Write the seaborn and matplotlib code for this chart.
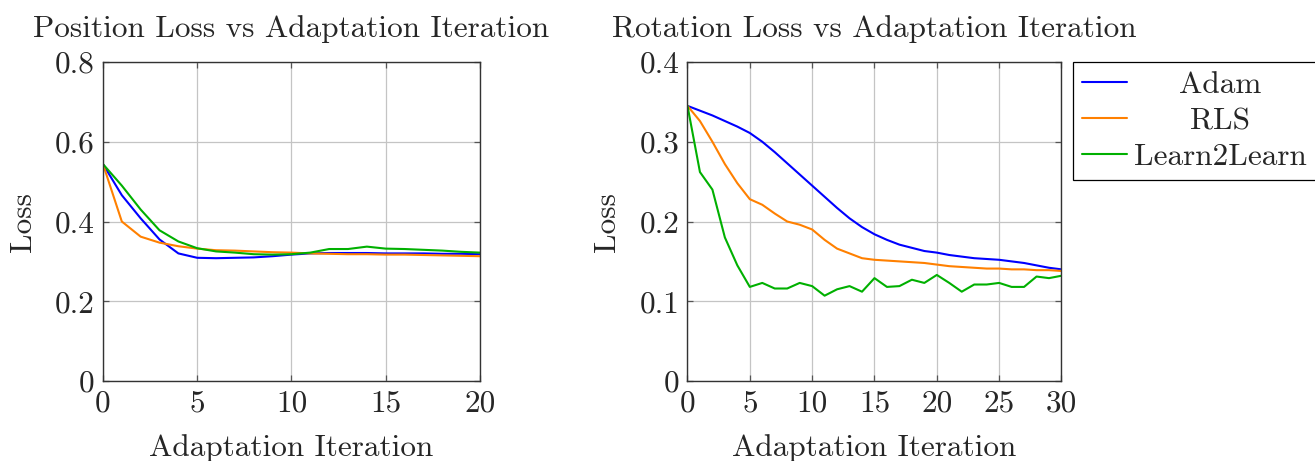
import numpy as np
import pandas as pd
import matplotlib
matplotlib.use("Agg")
import matplotlib.pyplot as plt
import seaborn as sns

# ---- data -------------------------------------------------------------
methods = ["Adam", "RLS", "Learn2Learn"]
colors = {"Adam": "#0000ff", "RLS": "#ff8000", "Learn2Learn": "#00b000"}

pos_iters = list(range(0, 21))
pos_adam = [0.544, 0.466, 0.408, 0.355, 0.320, 0.309, 0.308, 0.309, 0.310, 0.313,
            0.317, 0.320, 0.321, 0.321, 0.321, 0.320, 0.320, 0.320, 0.319, 0.319, 0.318]
pos_rls = [0.544, 0.400, 0.362, 0.347, 0.338, 0.332, 0.328, 0.327, 0.325, 0.323,
           0.322, 0.320, 0.319, 0.318, 0.318, 0.317, 0.317, 0.316, 0.315, 0.314, 0.313]
pos_l2l = [0.544, 0.490, 0.430, 0.378, 0.350, 0.333, 0.325, 0.322, 0.318, 0.317,
           0.318, 0.322, 0.331, 0.331, 0.337, 0.332, 0.331, 0.329, 0.327, 0.324, 0.322]

rot_iters = list(range(0, 31))
rot_adam = [0.345, 0.339, 0.333, 0.326, 0.319, 0.311, 0.300, 0.287, 0.273, 0.259,
            0.245, 0.231, 0.217, 0.204, 0.193, 0.184, 0.177, 0.171, 0.167, 0.163,
            0.161, 0.158, 0.156, 0.154, 0.153, 0.152, 0.150, 0.148, 0.145, 0.142, 0.140]
rot_rls = [0.345, 0.326, 0.300, 0.272, 0.248, 0.228, 0.221, 0.210, 0.200, 0.196,
           0.190, 0.177, 0.166, 0.160, 0.154, 0.152, 0.151, 0.150, 0.149, 0.148,
           0.146, 0.144, 0.143, 0.142, 0.141, 0.141, 0.140, 0.140, 0.139, 0.139, 0.138]
rot_l2l = [0.345, 0.262, 0.240, 0.180, 0.145, 0.118, 0.123, 0.116, 0.116, 0.123,
           0.119, 0.107, 0.115, 0.119, 0.112, 0.129, 0.118, 0.119, 0.127, 0.123,
           0.133, 0.123, 0.112, 0.121, 0.121, 0.123, 0.118, 0.118, 0.131, 0.129, 0.132]

pos_xticks = [0, 5, 10, 15, 20]
pos_yticks = [0, 0.2, 0.4, 0.6, 0.8]
pos_yticklabels = ["0", "0.2", "0.4", "0.6", "0.8"]
rot_xticks = [0, 5, 10, 15, 20, 25, 30]
rot_yticks = [0, 0.1, 0.2, 0.3, 0.4]
rot_yticklabels = ["0", "0.1", "0.2", "0.3", "0.4"]


def long_frame(iters, series):
    rows = []
    for name, vals in zip(methods, series):
        for it, v in zip(iters, vals):
            rows.append({"Iteration": it, "Loss": v, "Method": name})
    return pd.DataFrame(rows)


pos_df = long_frame(pos_iters, [pos_adam, pos_rls, pos_l2l])
rot_df = long_frame(rot_iters, [rot_adam, rot_rls, rot_l2l])

# ---- style ------------------------------------------------------------
sns.set_style("whitegrid")
plt.rcParams["font.family"] = ["cmr10", "DejaVu Serif"]
plt.rcParams["mathtext.fontset"] = "cm"
plt.rcParams["axes.formatter.use_mathtext"] = True

FS = 22.5

fig = plt.figure(figsize=(13.15, 4.61), dpi=100)
ax1 = fig.add_axes([0.0783, 0.1735, 0.2867, 0.692])
ax2 = fig.add_axes([0.5228, 0.1735, 0.2844, 0.692])


def style_axes(ax, xticks, yticks, yticklabels, xmax, ymax, title):
    ax.set_xlim(0, xmax)
    ax.set_ylim(0, ymax)
    ax.set_xticks(xticks)
    ax.set_xticklabels([str(t) for t in xticks])
    ax.set_yticks(yticks)
    ax.set_yticklabels(yticklabels)
    ax.grid(True, color="#c4c4c4", linewidth=0.9)
    ax.set_axisbelow(True)
    for s in ax.spines.values():
        s.set_color("#333333")
        s.set_linewidth(1.0)
        s.set_visible(True)
    ax.tick_params(direction="in", length=4, width=0.9, color="#555555",
                   labelsize=FS, top=True, right=True, bottom=True, left=True,
                   pad=6)
    ax.set_xlabel("Adaptation Iteration", fontsize=FS, labelpad=12)
    ax.set_ylabel("Loss", fontsize=FS, labelpad=13)
    ax.set_title(title, fontsize=FS, pad=18)


sns.lineplot(data=pos_df, x="Iteration", y="Loss", hue="Method", palette=colors,
             ax=ax1, linewidth=1.5, legend=False)
sns.lineplot(data=rot_df, x="Iteration", y="Loss", hue="Method", palette=colors,
             ax=ax2, linewidth=1.5, legend=True)

style_axes(ax1, pos_xticks, pos_yticks, pos_yticklabels, 20, 0.8,
           "Position Loss vs Adaptation Iteration")
style_axes(ax2, rot_xticks, rot_yticks, rot_yticklabels, 30, 0.4,
           "Rotation Loss vs Adaptation Iteration")

leg = ax2.legend(loc="upper left", bbox_to_anchor=(1.03, 1.0), fontsize=FS,
                 frameon=True, fancybox=False, edgecolor="black", framealpha=1,
                 handlelength=1.45, handletextpad=0.2, borderpad=0.3,
                 labelspacing=0.25, borderaxespad=0)
leg.get_frame().set_linewidth(0.9)
for line in leg.get_lines():
    line.set_linewidth(1.5)

# centre the legend labels within their column
fig.canvas.draw()
renderer = fig.canvas.get_renderer()
texts = leg.get_texts()
widths = [t.get_window_extent(renderer).width for t in texts]
wmax = max(widths)
for t, w in zip(texts, widths):
    t.set_x((wmax - w) / 2)

fig.savefig("out.png", dpi=100)
